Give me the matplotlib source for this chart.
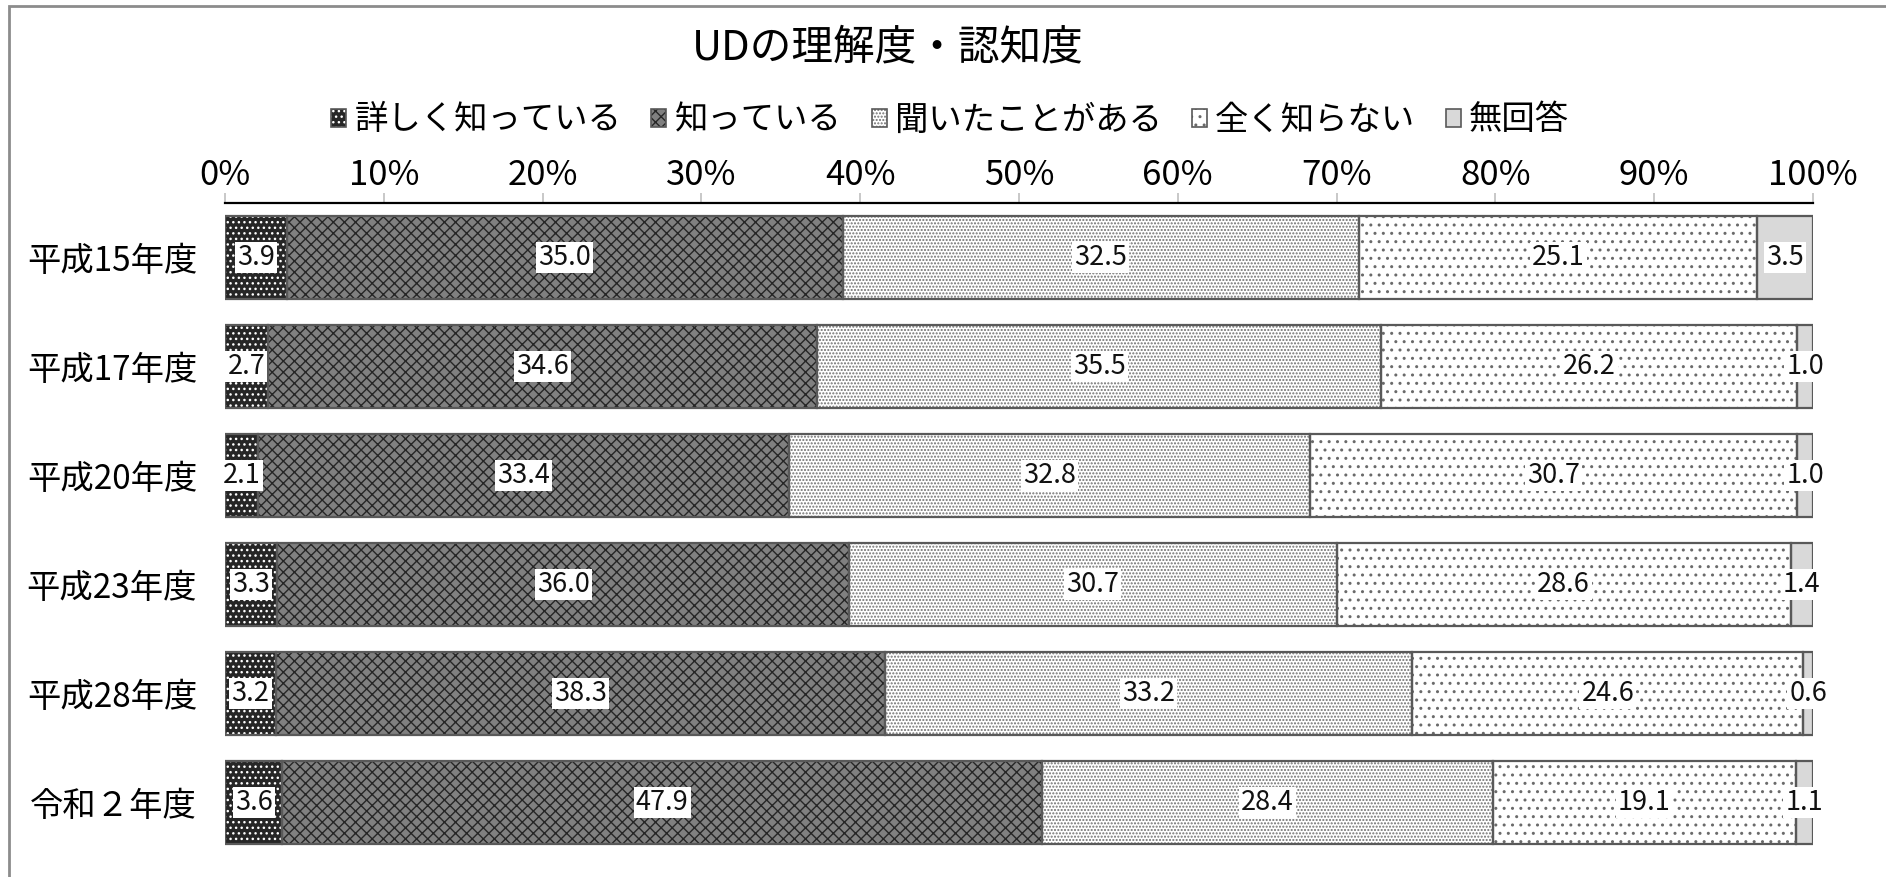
import matplotlib
matplotlib.use("Agg")
import matplotlib.pyplot as plt
import numpy as np
from matplotlib.patches import Patch, Rectangle
from matplotlib.legend_handler import HandlerTuple

plt.rcParams['font.family'] = ['Noto Sans CJK JP', 'DejaVu Sans']
plt.rcParams['hatch.linewidth'] = 1.0

title = "UDの理解度・認知度"
years = ["平成15年度", "平成17年度", "平成20年度", "平成23年度", "平成28年度", "令和２年度"]
series_names = ["詳しく知っている", "知っている", "聞いたことがある", "全く知らない", "無回答"]
detail = [3.9, 2.7, 2.1, 3.3, 3.2, 3.6]
know = [35.0, 34.6, 33.4, 36.0, 38.3, 47.9]
heard = [32.5, 35.5, 32.8, 30.7, 33.2, 28.4]
unknown = [25.1, 26.2, 30.7, 28.6, 24.6, 19.1]
noanswer = [3.5, 1.0, 1.0, 1.4, 0.6, 1.1]
xticks = [0, 10, 20, 30, 40, 50, 60, 70, 80, 90, 100]

series = [detail, know, heard, unknown, noanswer]
faces = ['#262626', '#808080', 'white', 'white', '#d9d9d9']
hatch_cols = ['white', '#262626', '#707070', '#6a6a6a', '#d9d9d9']
hatches = ['...', 'xxx', '.....', '..', None]
outline = '#595959'

fig = plt.figure(figsize=(18.86, 8.77), dpi=100)
ax = fig.add_axes([225/1886, 1-857/877, (1813-225)/1886, (857-203)/877])

data = np.array(series, dtype=float)
totals = data.sum(axis=0)
norm = data / totals * 100
y = np.arange(len(years))
left = np.zeros(len(years))
handles = []
for i, name in enumerate(series_names):
    b = ax.barh(y, norm[i], left=left, height=0.77, color=faces[i],
                edgecolor=hatch_cols[i], hatch=hatches[i], linewidth=0, zorder=2)
    ax.barh(y, norm[i], left=left, height=0.77, fill=False,
            edgecolor=outline, linewidth=1.6, zorder=3)
    ax.bar_label(b, labels=[f"{v:.1f}" for v in series[i]], label_type='center',
                 fontsize=19.5, color='#111111', zorder=5,
                 bbox=dict(facecolor='white', edgecolor='none', pad=1.5))
    left += norm[i]
    h1 = Patch(facecolor=faces[i], edgecolor=hatch_cols[i], hatch=hatches[i], linewidth=0)
    h2 = Patch(fill=False, edgecolor=outline, linewidth=1.2)
    handles.append((h1, h2))

ax.set_xlim(0, 100)
ax.set_ylim(len(years) - 0.5, -0.5)
ax.set_yticks(y)
ax.set_yticklabels(years, fontsize=24)
ax.set_xticks(xticks)
ax.set_xticklabels([f"{t}%" for t in xticks], fontsize=25)
ax.xaxis.tick_top()
ax.tick_params(axis='x', direction='out', length=7, width=1.2, color='#bfbfbf', pad=0)
ax.tick_params(axis='y', length=0, pad=20)
for s in ['left', 'right', 'bottom']:
    ax.spines[s].set_visible(False)
ax.spines['top'].set_linewidth(1.6)
ax.spines['top'].set_color('black')

fig.text(888/1886, 1-48/877, title, fontsize=30, ha='center', va='center')

fig.legend(handles, series_names, handler_map={tuple: HandlerTuple(ndivide=1, pad=0)},
           loc='center', bbox_to_anchor=(950/1886, 1-120/877), ncol=5, frameon=False,
           fontsize=24, handlelength=0.45, handleheight=0.45, handletextpad=0.25,
           columnspacing=0.9)

fig.add_artist(Rectangle((9/1886, -0.1), 1.2, (877-6)/877 + 0.1, transform=fig.transFigure,
                         fill=False, edgecolor='#8c8c8c', linewidth=2))

fig.savefig("out.png", dpi=100)
